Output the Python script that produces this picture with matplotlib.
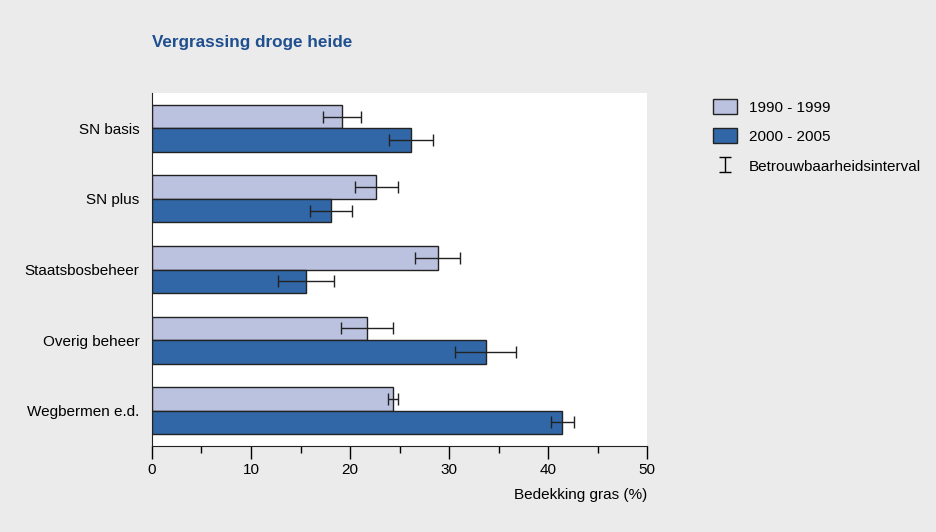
import matplotlib.pyplot as plt
import numpy as np
from matplotlib.patches import Patch

plt.rcParams['font.family'] = ['Liberation Sans', 'DejaVu Sans']

# data
categories = ['SN basis', 'SN plus', 'Staatsbosbeheer', 'Overig beheer', 'Wegbermen e.d.']
v_9099 = [19.2, 22.6, 28.9, 21.7, 24.3]
lo_9099 = [17.3, 20.5, 26.6, 19.1, 23.8]
hi_9099 = [21.1, 24.8, 31.1, 24.3, 24.8]
v_0005 = [26.2, 18.1, 15.6, 33.7, 41.4]
lo_0005 = [23.9, 16.0, 12.7, 30.6, 40.3]
hi_0005 = [28.4, 20.2, 18.4, 36.8, 42.6]

bg = '#ebebeb'
light = '#bbc2e0'
dark = '#3267a7'

fig = plt.figure(figsize=(9.37, 5.32), dpi=100, facecolor=bg)
ax = fig.add_axes([152/937, 1 - 446/532, (647-152)/937, (446-93)/532])
ax.set_facecolor('white')

y = np.arange(len(categories))
h = 1/3
v1 = np.array(v_9099); v2 = np.array(v_0005)
err1 = [v1 - np.array(lo_9099), np.array(hi_9099) - v1]
err2 = [v2 - np.array(lo_0005), np.array(hi_0005) - v2]

ax.barh(y - h/2, v1, height=h, color=light, edgecolor='#222222', linewidth=1)
ax.barh(y + h/2, v2, height=h, color=dark, edgecolor='#222222', linewidth=1)
ax.errorbar(v1, y - h/2, xerr=err1, fmt='none', ecolor='#222222', elinewidth=1, capsize=4, capthick=1)
ax.errorbar(v2, y + h/2, xerr=err2, fmt='none', ecolor='#222222', elinewidth=1, capsize=4, capthick=1)

ax.set_xlim(0, 50)
ax.set_ylim(4.5, -0.5)
ax.set_yticks(y)
ax.set_yticklabels(categories, fontsize=11)
ax.tick_params(axis='y', length=0, pad=9)
ax.set_xticks(np.arange(0, 51, 10))
ax.set_xticks(np.arange(5, 50, 10), minor=True)
ax.tick_params(axis='x', which='major', length=9, width=1, labelsize=11, pad=3)
ax.tick_params(axis='x', which='minor', length=5, width=1)
for s in ['top', 'right']:
    ax.spines[s].set_visible(False)
ax.spines['left'].set_color('#222222')
ax.spines['bottom'].set_color('#222222')

ax.set_xlabel('Bedekking gras (%)', fontsize=11, loc='right', labelpad=8)

fig.text(152/937, 1 - 42/532, 'Vergrassing droge heide', fontsize=12.3, fontweight='bold',
         color='#1f4f8f', va='center', ha='left')

# legend
eb = ax.errorbar([np.nan], [np.nan], yerr=[1], fmt='none', ecolor='black', elinewidth=1, capsize=4)
handles = [Patch(facecolor=light, edgecolor='#222222'), Patch(facecolor=dark, edgecolor='#222222'), eb]
labels = ['1990 - 1999', '2000 - 2005', 'Betrouwbaarheidsinterval']
fig.legend(handles, labels, loc='upper left', bbox_to_anchor=(699/937, 1 - 85/532),
           frameon=False, fontsize=11, handlelength=1.6, handleheight=1.15,
           labelspacing=0.9, handletextpad=0.75)

plt.savefig('out.png', dpi=100, facecolor=bg)
